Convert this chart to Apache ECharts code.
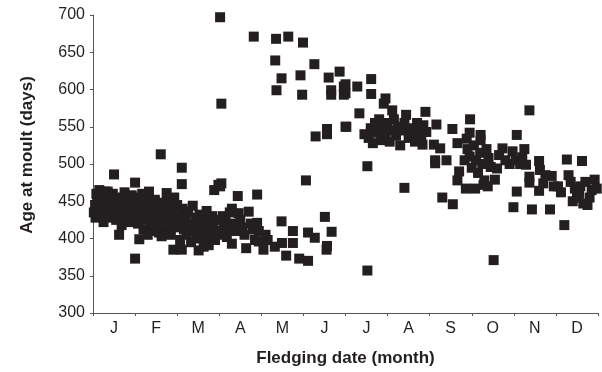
<!DOCTYPE html>
<html>
<head>
<meta charset="utf-8">
<script src="https://cdn.jsdelivr.net/npm/echarts@6/dist/echarts.min.js"></script>
<style>html,body{margin:0;padding:0;background:#fff}#c{width:602px;height:372px}</style>
</head>
<body>
<div id="c"></div>
<script>
var months = ['J','F','M','A','M','J','J','A','S','O','N','D'];
var yTicks = [300, 350, 400, 450, 500, 550, 600, 650, 700];

// [fledging date in months from 1 Jan, age at moult (days)]
var janPts = [[0.02,435],[0.05,445],[0.08,460],[0.1,452],[0.12,438],[0.15,465],[0.17,448],[0.2,430],[0.22,458],[0.25,422],[0.27,442],[0.3,455],[0.32,436],[0.35,463],[0.37,447],[0.4,428],[0.42,452],[0.45,440],[0.47,460],[0.5,486],[0.5,433],[0.52,445],[0.55,425],[0.57,455],[0.6,438],[0.62,405],[0.63,448],[0.65,430],[0.68,418],[0.7,452],[0.72,440],[0.75,462],[0.77,428],[0.8,445],[0.82,435],[0.85,450],[0.87,422],[0.9,442],[0.92,458],[0.95,432],[0.97,447],[0.06,428],[0.14,455],[0.28,463],[0.38,432],[0.58,442],[0.78,437],[0.88,430]];
var febPts = [[1.0,475],[1.0,373],[1.02,440],[1.05,455],[1.07,420],[1.1,399],[1.12,445],[1.15,430],[1.17,460],[1.2,412],[1.22,438],[1.25,425],[1.28,450],[1.3,405],[1.33,463],[1.35,435],[1.38,418],[1.4,445],[1.42,428],[1.45,410],[1.47,452],[1.5,437],[1.52,420],[1.55,445],[1.57,408],[1.6,430],[1.61,513],[1.63,403],[1.65,448],[1.68,425],[1.7,440],[1.72,412],[1.75,461],[1.77,433],[1.8,420],[1.82,450],[1.85,405],[1.87,438],[1.9,427],[1.91,385],[1.93,455],[1.95,415],[1.97,442],[1.23,452],[1.43,418],[1.62,438],[1.83,430]];
var marPts = [[2.0,445],[2.03,420],[2.07,398],[2.1,430],[2.11,495],[2.11,473],[2.11,385],[2.13,440],[2.16,412],[2.2,425],[2.23,405],[2.26,436],[2.3,418],[2.33,395],[2.37,444],[2.4,410],[2.43,428],[2.47,400],[2.5,420],[2.51,384],[2.53,432],[2.57,408],[2.6,415],[2.63,389],[2.65,425],[2.67,402],[2.7,437],[2.72,412],[2.75,391],[2.78,420],[2.8,405],[2.83,430],[2.85,415],[2.88,465],[2.9,398],[2.93,425],[2.95,410],[2.98,472]];
var aprPts = [[3.02,697],[3.05,581],[3.02,470],[3.05,474],[3.08,430],[3.1,418],[3.12,405],[3.15,425],[3.18,402],[3.2,415],[3.25,435],[3.3,440],[3.3,393],[3.35,420],[3.4,410],[3.44,457],[3.46,434],[3.5,425],[3.55,415],[3.6,405],[3.64,387],[3.7,436],[3.75,420],[3.8,412],[3.82,671],[3.85,398],[3.9,459],[3.9,421],[3.94,410],[3.94,396]];
var mayPts = [[4.05,385],[4.1,405],[4.15,398],[4.32,389],[4.33,639],[4.35,668],[4.36,599],[4.48,615],[4.48,423],[4.49,394],[4.59,377],[4.64,671],[4.75,410],[4.75,394],[4.9,373],[4.93,619],[4.97,593],[4.99,663]];
var junPts = [[5.06,478],[5.11,370],[5.11,408],[5.26,634],[5.27,401],[5.29,537],[5.51,429],[5.55,385],[5.56,390],[5.56,547],[5.56,540],[5.6,616],[5.66,599],[5.66,593],[5.67,409],[5.86,624],[5.96,604],[5.96,593],[6.0,550]];
var julPts = [[6.0,607],[6.0,595],[6.02,550],[6.28,604],[6.33,568],[6.52,497],[6.52,357],[6.61,614],[6.61,594],[6.91,581],[6.95,588],[6.45,540],[6.55,535],[6.6,548],[6.65,528],[6.7,555],[6.75,542],[6.8,560],[6.85,532],[6.9,548],[6.95,538]];
var augPts = [[7.0,555],[7.05,530],[7.11,572],[7.1,545],[7.15,560],[7.2,538],[7.25,550],[7.3,525],[7.35,545],[7.4,468],[7.4,555],[7.44,566],[7.5,535],[7.55,548],[7.6,540],[7.65,530],[7.7,555],[7.75,545],[7.8,538],[7.83,526],[7.85,552],[7.9,570],[7.92,543]];
var sepPts = [[8.13,505],[8.13,501],[8.16,553],[8.1,526],[8.25,521],[8.3,455],[8.4,505],[8.54,547],[8.55,446],[8.66,528],[8.66,478],[8.7,490],[8.83,505],[8.86,467],[8.96,560],[8.95,542],[8.88,534],[8.9,520],[8.95,510],[9.0,495],[9.05,525],[9.1,505],[9.15,488],[9.2,515],[9.21,539],[9.21,532],[9.25,500],[9.3,478],[9.35,520],[9.4,508]];
var octPts = [[9.45,496],[9.52,371],[9.55,479],[9.6,494],[9.65,512],[9.73,521],[9.8,505],[9.9,500],[9.97,517],[9.99,442],[10.07,539],[10.07,463],[9.38,470],[9.28,472],[9.08,467]];
var novPts = [[10.05,505],[10.15,500],[10.2,509],[10.25,520],[10.29,499],[10.37,572],[10.37,483],[10.37,475],[10.43,439],[10.6,504],[10.62,492],[10.7,474],[10.75,485],[10.6,464],[10.86,439],[10.9,484],[10.95,470]];
var decPts = [[11.2,418],[11.26,506],[11.3,485],[11.35,476],[11.45,467],[11.5,455],[11.55,460],[11.62,504],[11.65,447],[11.7,476],[11.75,445],[11.8,455],[11.85,465],[11.92,479],[11.97,467],[11.05,470],[11.12,462],[11.4,450],[11.58,470]];

var allPts = [].concat(janPts, febPts, marPts, aprPts, mayPts, junPts, julPts, augPts, sepPts, octPts, novPts, decPts);

var font = 'Liberation Sans, Arial, sans-serif';
var ink = '#231f20';
var chart = echarts.init(document.getElementById('c'), null, {renderer: 'canvas'});
chart.setOption({
  animation: false,
  backgroundColor: '#fff',
  grid: {left: 93, right: 4, top: 15, bottom: 59},
  xAxis: [{
    type: 'value', min: 0, max: 12, show: false
  }, {
    type: 'category', data: months, position: 'bottom', boundaryGap: true,
    axisLine: {lineStyle: {color: '#555', width: 1}},
    axisTick: {show: true, length: 3, lineStyle: {color: '#555'}},
    axisLabel: {color: ink, fontSize: 16, fontFamily: font, margin: 8},
    name: 'Fledging date (month)', nameLocation: 'middle', nameGap: 37,
    nameTextStyle: {color: ink, fontSize: 17, fontWeight: 'bold', fontFamily: font}
  }],
  yAxis: {
    type: 'value', min: yTicks[0], max: yTicks[yTicks.length - 1], interval: 50,
    splitLine: {show: false},
    axisLine: {show: true, lineStyle: {color: '#555', width: 1}},
    axisTick: {show: true, length: 3, lineStyle: {color: '#555'}},
    axisLabel: {color: ink, fontSize: 16, fontFamily: font, margin: 8},
    name: 'Age at moult (days)', nameLocation: 'middle', nameGap: 57,
    nameTextStyle: {color: ink, fontSize: 17, fontWeight: 'bold', fontFamily: font, padding: [0, 0, 0, 18]}
  },
  series: [{
    type: 'scatter', xAxisIndex: 0, yAxisIndex: 0,
    symbol: 'rect', symbolSize: 10,
    itemStyle: {color: ink, opacity: 1},
    data: allPts
  }]
});
</script>
</body>
</html>
